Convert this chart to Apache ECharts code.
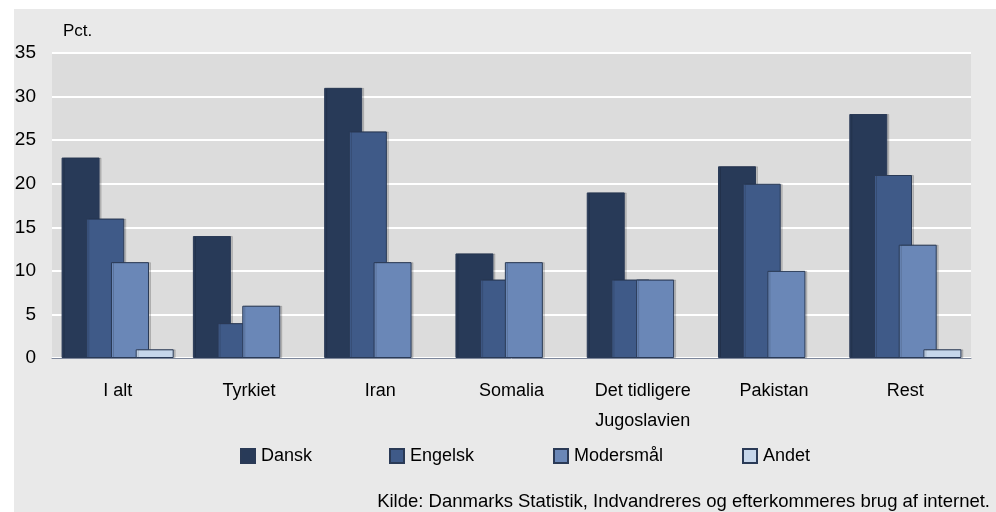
<!DOCTYPE html>
<html><head><meta charset="utf-8">
<script src="https://cdn.jsdelivr.net/npm/echarts@6/dist/echarts.min.js"></script>
<style>html,body{margin:0;padding:0;background:#fff}#c{width:996px;height:512px}</style>
</head><body><div id="c"></div>
<script>
const categories = ['I alt', 'Tyrkiet', 'Iran', 'Somalia', 'Det tidligere\nJugoslavien', 'Pakistan', 'Rest'];
const seriesNames = ['Dansk', 'Engelsk', 'Modersmål', 'Andet'];
const dansk = [23, 14, 31, 12, 19, 22, 28];
const engelsk = [16, 4, 26, 9, 9, 20, 21];
const modersmaal = [11, 6, 11, 11, 9, 10, 13];
const andet = [1, null, null, null, null, null, 1];
const yTicks = { min: 0, max: 35, interval: 5 };
const colors = ['#283a58', '#3f5a88', '#6a87b7', '#c6d6ea'];
const values = [dansk, engelsk, modersmaal, andet];
const font = 'Liberation Sans';

const chart = echarts.init(document.getElementById('c'), null, { renderer: 'canvas' });
const legendLefts = [240, 389, 553, 742];
const option = {
  animation: false,
  backgroundColor: '#ffffff',
  textStyle: { fontFamily: font },
  graphic: [
    { type: 'rect', left: 14, top: 9, shape: { width: 982, height: 503 }, style: { fill: '#e9e9e9' }, z: -10 },
    { type: 'text', left: 63, top: 23, style: { text: 'Pct.', font: '17px "Liberation Sans"', fill: '#000' } },
    { type: 'text', right: 6, top: 492, style: { text: 'Kilde: Danmarks Statistik, Indvandreres og efterkommeres brug af internet.', font: '18.5px "Liberation Sans"', fill: '#000' } }
  ],
  grid: { left: 52, right: 25, top: 53, bottom: 154, show: true, backgroundColor: '#dcdcdc', borderWidth: 0 },
  legend: seriesNames.map((n, i) => ({
    data: [n], left: legendLefts[i], top: 447, padding: 0, itemWidth: 14, itemHeight: 14, itemGap: 5,
    textStyle: { fontFamily: font, fontSize: 18, color: '#000', padding: [0, 0, 0, 1] },
    icon: 'rect'
  })),
  xAxis: {
    type: 'category', data: categories,
    axisLine: { show: true, lineStyle: { color: '#7d879b', width: 1 } },
    axisTick: { show: false },
    axisLabel: { color: '#000', fontSize: 18, fontFamily: font, margin: 18, lineHeight: 30, interval: 0 }
  },
  yAxis: {
    type: 'value', min: yTicks.min, max: yTicks.max, interval: yTicks.interval,
    axisLine: { show: false }, axisTick: { show: false },
    axisLabel: { color: '#000', fontSize: 19, fontFamily: font, margin: 16 },
    splitLine: { lineStyle: { color: '#ffffff', width: 2 } }
  },
  series: seriesNames.map((n, i) => ({
    name: n, type: 'bar', data: values[i], barWidth: 38, barGap: '-35%',
    itemStyle: { color: colors[i], borderColor: '#2a3a56', borderWidth: 1,
      shadowColor: 'rgba(0,0,0,0.15)', shadowOffsetX: 2, shadowOffsetY: 0, shadowBlur: 0 },
    z: 2 + i
  }))
};
chart.setOption(option);
</script></body></html>
